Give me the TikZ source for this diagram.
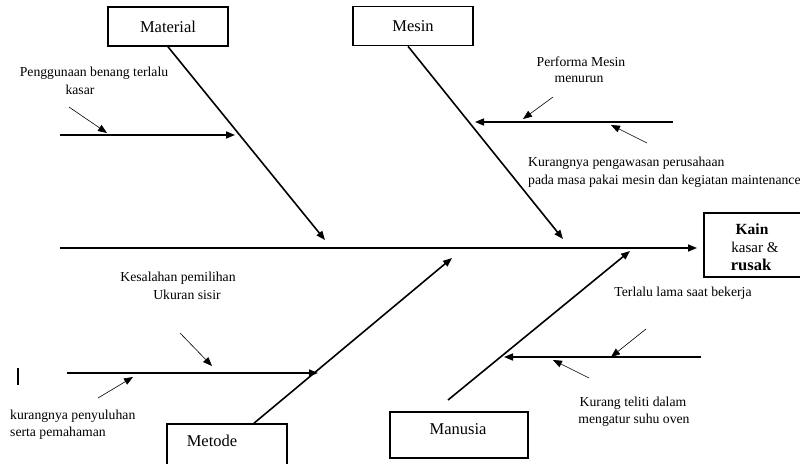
\documentclass[tikz,border=0pt]{standalone}
\usepackage{fontspec}
\setmainfont{Liberation Serif}
\usetikzlibrary{arrows.meta}
\begin{document}
\begin{tikzpicture}[x=1pt,y=-1pt,
  box/.style={draw,line width=1.6pt,minimum width=#1,inner sep=0pt},
  bone/.style={line width=1.6pt,-{Triangle[length=9pt,width=7pt]}},
  twig/.style={line width=0.6pt,-{Triangle[length=9pt,width=7pt]}},
  lbl/.style={font=\fontsize{13.7}{15}\selectfont,inner sep=0pt},
  lbll/.style={lbl,anchor=west},
  head/.style={font=\fontsize{16.5}{18}\selectfont,inner sep=0pt}]
\useasboundingbox (0,0) rectangle (800,463);
\begin{scope}
\clip (0,0) rectangle (800,463);
% boxes
\node[box=120pt,minimum height=39pt,head] (material) at (168,26.5) {Material};
\node[box=120pt,minimum height=39pt,head] (mesin) at (413,26) {Mesin};
\node[box=98pt,minimum height=64pt] (kain) at (753,245) {};
\node[box=120pt,minimum height=48pt] (metode) at (227,448) {};
\node[head] (metodetxt) at (212,441) {Metode};
\node[box=138pt,minimum height=46pt] (manusia) at (459,435) {};
\node[head] (manusiatxt) at (458,429) {Manusia};
\node[font=\bfseries\fontsize{15.5}{17}\selectfont,inner sep=0pt] (kain1) at (752,229) {Kain};
\node[font=\fontsize{15}{17}\selectfont,inner sep=0pt] (kain2) at (755,247) {kasar \&};
\node[font=\bfseries\fontsize{16.5}{18}\selectfont,inner sep=0pt] (kain3) at (751,265) {rusak};
% spine
\coordinate (s0) at (60,248);
\coordinate (s1) at (697,248);
\draw[bone] (s0) -- (s1);
% main bones
\coordinate (matEnd) at (325,240);
\coordinate (mesEnd) at (563,239);
\coordinate (metEnd) at (452,258);
\coordinate (manEnd) at (630,251);
\coordinate (manStart) at (448,400);
\draw[bone] (material.south) -- (matEnd);
\draw[bone] ([xshift=-5pt]mesin.south) -- (mesEnd);
\draw[bone] (metode.north -| 254,0) -- (metEnd);
\draw[bone] (manStart) -- (manEnd);
% sub-branches
\coordinate (a0) at (60,135); \coordinate (a1) at (235,135);
\draw[bone] (a0) -- (a1);
\coordinate (a2) at (69,107); \coordinate (a3) at (107,133);
\draw[twig] (a2) -- (a3);
\coordinate (b0) at (673,122); \coordinate (b1) at (475,122);
\draw[bone] (b0) -- (b1);
\coordinate (b2) at (553,97); \coordinate (b3) at (523,119);
\draw[twig] (b2) -- (b3);
\coordinate (b4) at (647,143); \coordinate (b5) at (611,125);
\draw[twig] (b4) -- (b5);
\coordinate (c0) at (67,373); \coordinate (c1) at (318,373);
\draw[bone] (c0) -- (c1);
\coordinate (c2) at (180,333); \coordinate (c3) at (212,366);
\draw[twig] (c2) -- (c3);
\coordinate (c4) at (98,398); \coordinate (c5) at (133,377);
\draw[twig] (c4) -- (c5);
\coordinate (d0) at (701,357); \coordinate (d1) at (504,357);
\draw[bone] (d0) -- (d1);
\coordinate (d2) at (646,329); \coordinate (d3) at (611,357);
\draw[twig] (d2) -- (d3);
\coordinate (d4) at (589,378); \coordinate (d5) at (553,360);
\draw[twig] (d4) -- (d5);
% stray bar
\coordinate (v0) at (18,368); \coordinate (v1) at (18,385);
\draw[line width=1.6pt] (v0) -- (v1);
% labels
\node[lbl] (t1) at (94,73) {Penggunaan benang terlalu};
\node[lbl] (t2) at (80,90) {kasar};
\node[lbl] (t3) at (581,62) {Performa Mesin};
\node[lbl] (t4) at (579,79) {menurun};
\node[lbll] (t5) at (528,163) {Kurangnya pengawasan perusahaan};
\node[lbll] (t6) at (528,181) {pada masa pakai mesin dan kegiatan maintenance};
\node[lbl] (t7) at (178,278) {Kesalahan pemilihan};
\node[lbl] (t8) at (187,295) {Ukuran sisir};
\node[lbll] (t9) at (10,416) {kurangnya penyuluhan};
\node[lbll] (t10) at (10,433) {serta pemahaman};
\node[lbl] (t11) at (683,293) {Terlalu lama saat bekerja};
\node[lbl] (t12) at (633,403) {Kurang teliti dalam};
\node[lbl] (t13) at (634,420) {mengatur suhu oven};
\end{scope}
\end{tikzpicture}
\end{document}
